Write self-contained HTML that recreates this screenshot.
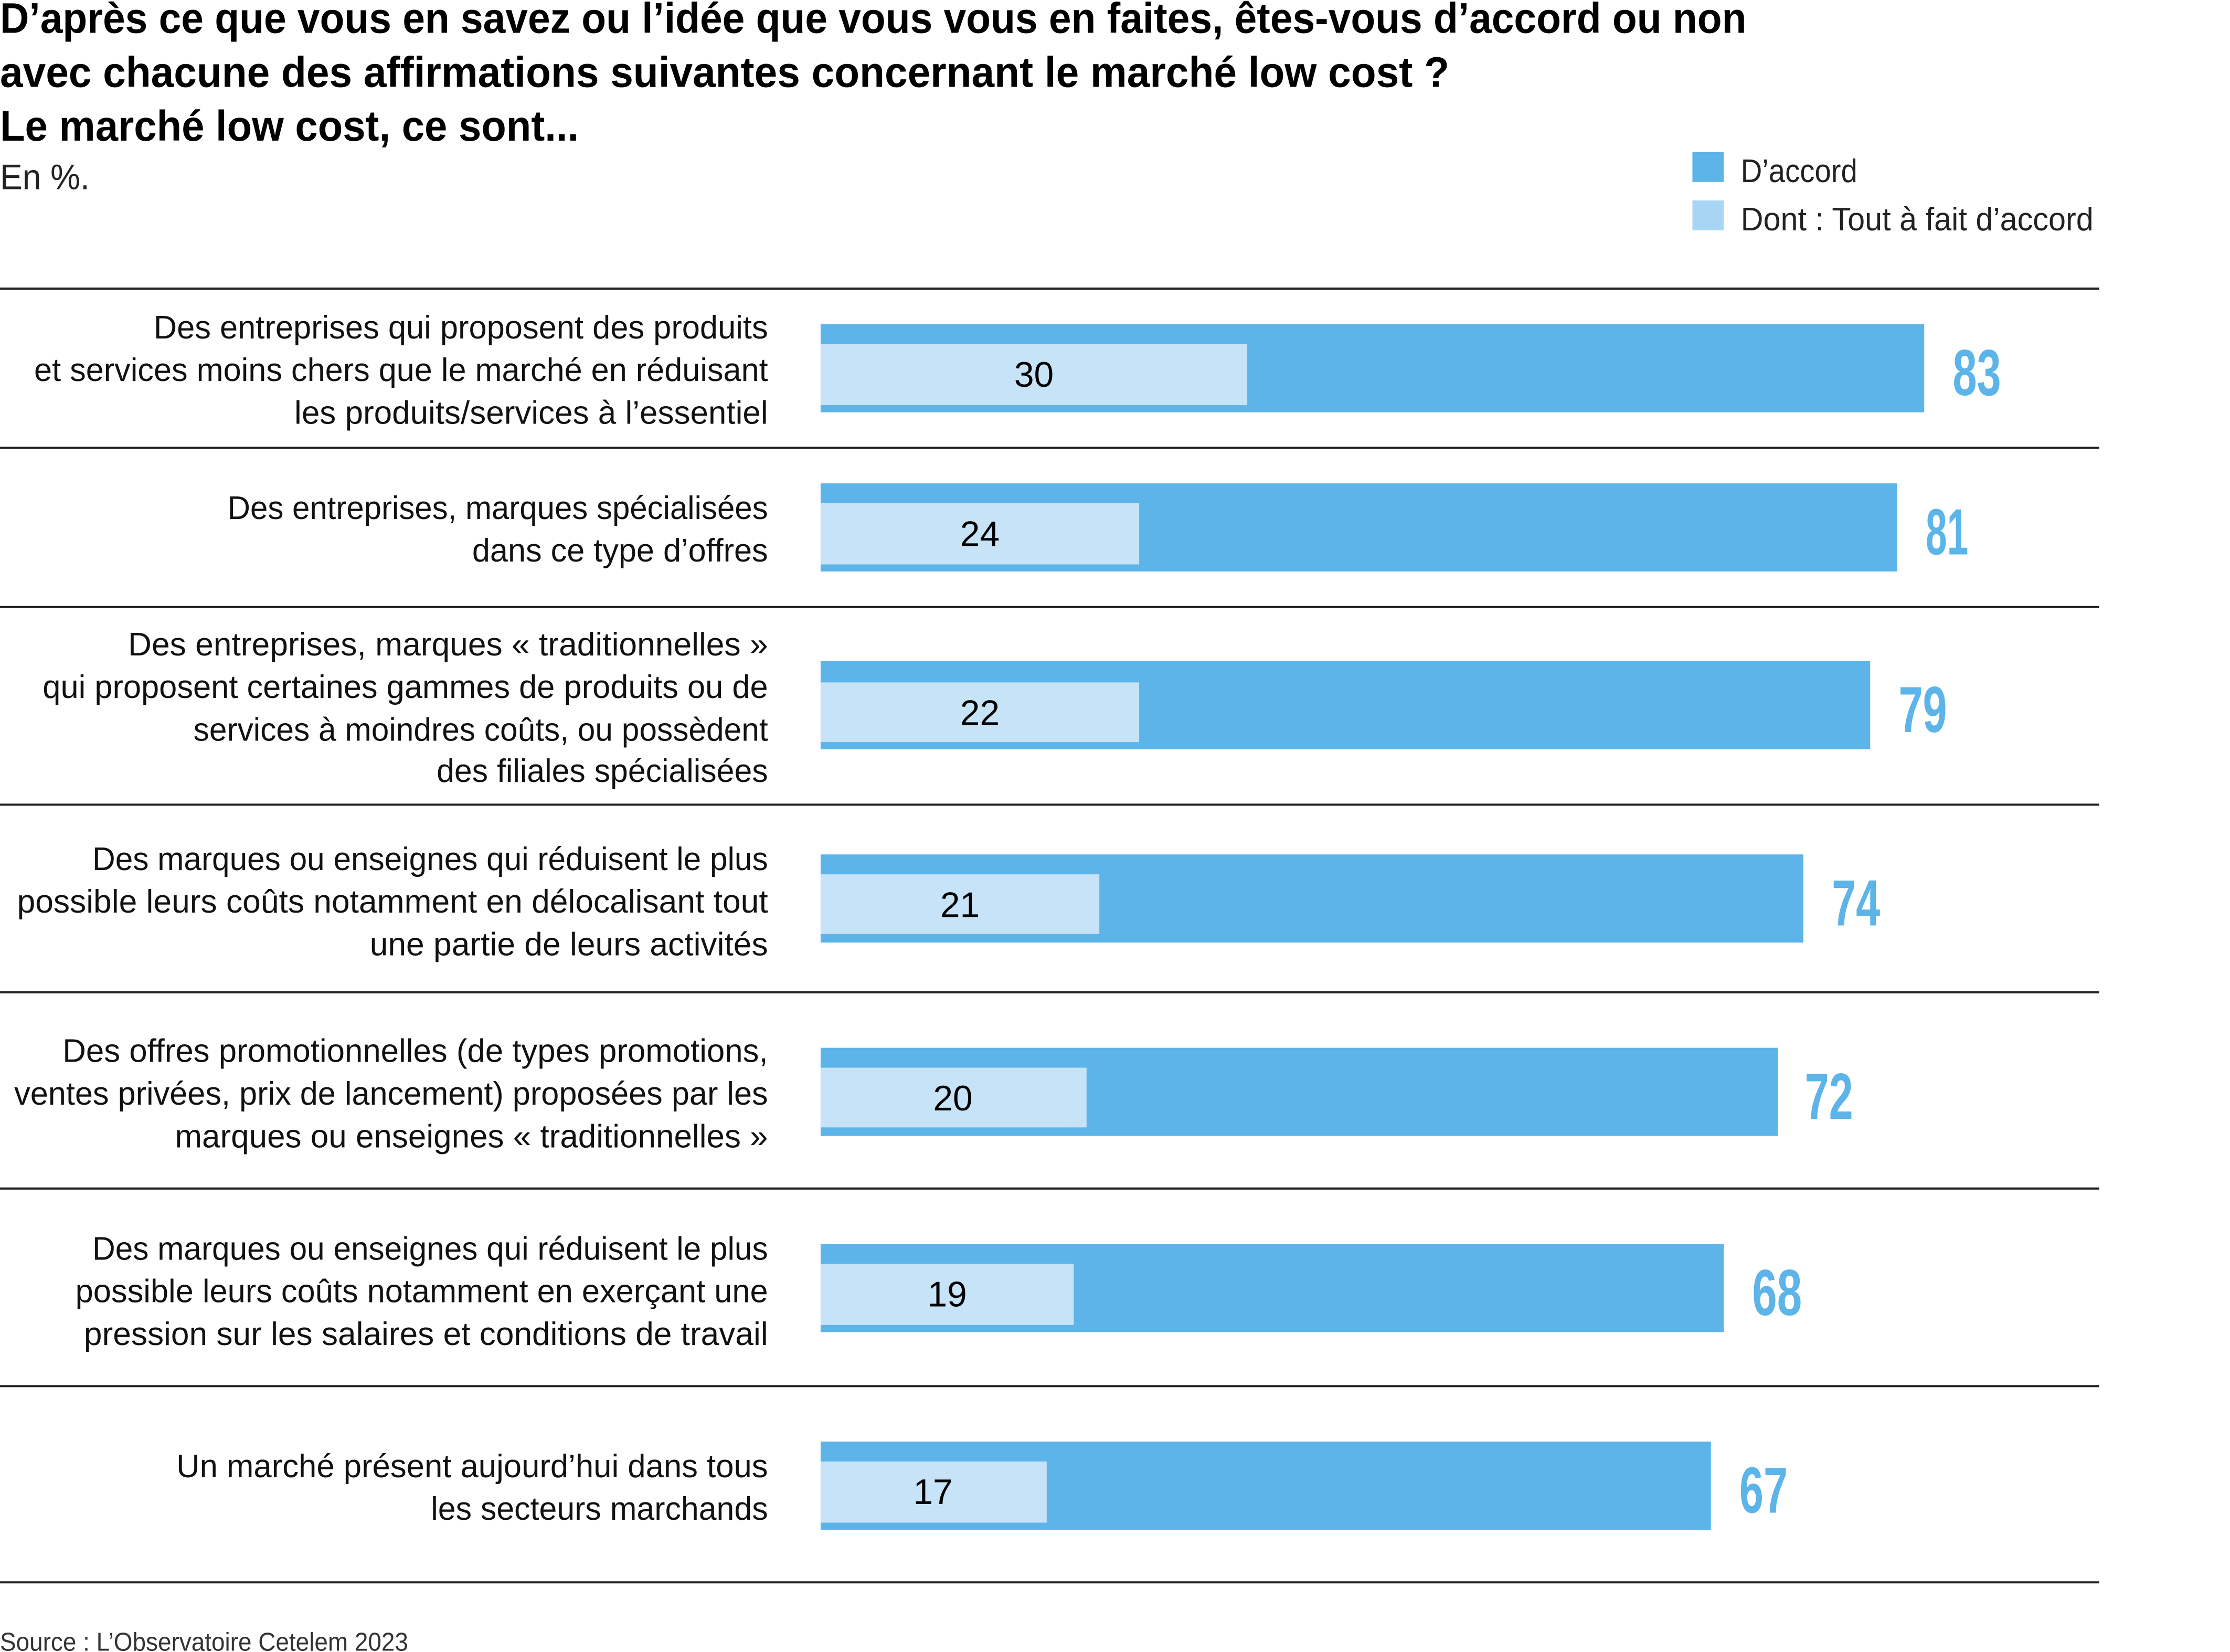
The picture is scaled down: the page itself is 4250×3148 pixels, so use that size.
<!DOCTYPE html>
<html><head><meta charset="utf-8"><style>
html,body{margin:0;padding:0;background:#fff;}
svg{display:block;}
text{font-family:"Liberation Sans Narrow","Liberation Sans",sans-serif;}
</style></head><body>
<svg width="4250" height="3148" viewBox="0 0 1568 1162" preserveAspectRatio="none" xmlns="http://www.w3.org/2000/svg">
<g font-weight="bold" font-size="30" fill="#000">
<text x="0" y="23" textLength="1228" lengthAdjust="spacingAndGlyphs">D’après ce que vous en savez ou l’idée que vous vous en faites, êtes-vous d’accord ou non</text>
<text x="0" y="61" textLength="1019" lengthAdjust="spacingAndGlyphs">avec chacune des affirmations suivantes concernant le marché low cost ?</text>
<text x="0" y="99" textLength="407" lengthAdjust="spacingAndGlyphs">Le marché low cost, ce sont...</text>
</g>
<text x="0" y="133" font-size="25" fill="#222" textLength="63" lengthAdjust="spacingAndGlyphs">En %.</text>
<rect x="1190" y="107" width="22" height="21" fill="#5cb4e8"/>
<rect x="1190" y="141" width="22" height="21" fill="#a9d5f5"/>
<text x="1224" y="128" font-size="23" fill="#222" textLength="82" lengthAdjust="spacingAndGlyphs">D’accord</text>
<text x="1224" y="162" font-size="23" fill="#222" textLength="248" lengthAdjust="spacingAndGlyphs">Dont : Tout à fait d’accord</text>
<g stroke="#222" stroke-width="1.5">
<line x1="0" y1="203" x2="1476" y2="203"/><line x1="0" y1="315" x2="1476" y2="315"/>
<line x1="0" y1="427" x2="1476" y2="427"/><line x1="0" y1="566" x2="1476" y2="566"/>
<line x1="0" y1="698" x2="1476" y2="698"/><line x1="0" y1="836" x2="1476" y2="836"/>
<line x1="0" y1="975" x2="1476" y2="975"/><line x1="0" y1="1113" x2="1476" y2="1113"/>
</g>
<g fill="#5cb4e8">
<rect x="577" y="228" width="776" height="62"/>
<rect x="577" y="340" width="757" height="62"/>
<rect x="577" y="465" width="738" height="62"/>
<rect x="577" y="601" width="691" height="62"/>
<rect x="577" y="737" width="673" height="62"/>
<rect x="577" y="875" width="635" height="62"/>
<rect x="577" y="1014" width="626" height="62"/>
</g>
<g fill="#c7e3f8">
<rect x="577" y="242" width="300" height="43"/>
<rect x="577" y="354" width="224" height="43"/>
<rect x="577" y="480" width="224" height="42"/>
<rect x="577" y="615" width="196" height="42"/>
<rect x="577" y="751" width="187" height="42"/>
<rect x="577" y="889" width="178" height="43"/>
<rect x="577" y="1028" width="159" height="43"/>
</g>
<g font-size="25" fill="#000" text-anchor="middle">
<text x="727" y="272">30</text><text x="689" y="384">24</text><text x="689" y="510">22</text>
<text x="675" y="645">21</text><text x="670" y="781">20</text><text x="666" y="919">19</text><text x="656" y="1058">17</text>
</g>
<g font-size="46" font-weight="bold" fill="#5cb4e8">
<text x="1373" y="278" textLength="34" lengthAdjust="spacingAndGlyphs">83</text>
<text x="1354" y="390" textLength="30" lengthAdjust="spacingAndGlyphs">81</text>
<text x="1335" y="515" textLength="34" lengthAdjust="spacingAndGlyphs">79</text>
<text x="1288" y="651" textLength="34" lengthAdjust="spacingAndGlyphs">74</text>
<text x="1269" y="787" textLength="34" lengthAdjust="spacingAndGlyphs">72</text>
<text x="1232" y="925" textLength="35" lengthAdjust="spacingAndGlyphs">68</text>
<text x="1223" y="1064" textLength="34" lengthAdjust="spacingAndGlyphs">67</text>
</g>
<g font-size="23" fill="#111" text-anchor="end">
<text x="540" y="238" textLength="432" lengthAdjust="spacingAndGlyphs">Des entreprises qui proposent des produits</text>
<text x="540" y="268" textLength="516" lengthAdjust="spacingAndGlyphs">et services moins chers que le marché en réduisant</text>
<text x="540" y="298" textLength="333" lengthAdjust="spacingAndGlyphs">les produits/services à l’essentiel</text>
<text x="540" y="365" textLength="380" lengthAdjust="spacingAndGlyphs">Des entreprises, marques spécialisées</text>
<text x="540" y="395" textLength="208" lengthAdjust="spacingAndGlyphs">dans ce type d’offres</text>
<text x="540" y="461" textLength="450" lengthAdjust="spacingAndGlyphs">Des entreprises, marques « traditionnelles »</text>
<text x="540" y="491" textLength="510" lengthAdjust="spacingAndGlyphs">qui proposent certaines gammes de produits ou de</text>
<text x="540" y="521" textLength="404" lengthAdjust="spacingAndGlyphs">services à moindres coûts, ou possèdent</text>
<text x="540" y="550" textLength="233" lengthAdjust="spacingAndGlyphs">des filiales spécialisées</text>
<text x="540" y="612" textLength="475" lengthAdjust="spacingAndGlyphs">Des marques ou enseignes qui réduisent le plus</text>
<text x="540" y="642" textLength="528" lengthAdjust="spacingAndGlyphs">possible leurs coûts notamment en délocalisant tout</text>
<text x="540" y="672" textLength="280" lengthAdjust="spacingAndGlyphs">une partie de leurs activités</text>
<text x="540" y="747" textLength="496" lengthAdjust="spacingAndGlyphs">Des offres promotionnelles (de types promotions,</text>
<text x="540" y="777" textLength="530" lengthAdjust="spacingAndGlyphs">ventes privées, prix de lancement) proposées par les</text>
<text x="540" y="807" textLength="417" lengthAdjust="spacingAndGlyphs">marques ou enseignes « traditionnelles »</text>
<text x="540" y="886" textLength="475" lengthAdjust="spacingAndGlyphs">Des marques ou enseignes qui réduisent le plus</text>
<text x="540" y="916" textLength="487" lengthAdjust="spacingAndGlyphs">possible leurs coûts notamment en exerçant une</text>
<text x="540" y="946" textLength="481" lengthAdjust="spacingAndGlyphs">pression sur les salaires et conditions de travail</text>
<text x="540" y="1039" textLength="416" lengthAdjust="spacingAndGlyphs">Un marché présent aujourd’hui dans tous</text>
<text x="540" y="1069" textLength="237" lengthAdjust="spacingAndGlyphs">les secteurs marchands</text>
</g>
<text x="0" y="1161" font-size="18" fill="#333" textLength="287" lengthAdjust="spacingAndGlyphs">Source : L’Observatoire Cetelem 2023</text>
</svg>
</body></html>
